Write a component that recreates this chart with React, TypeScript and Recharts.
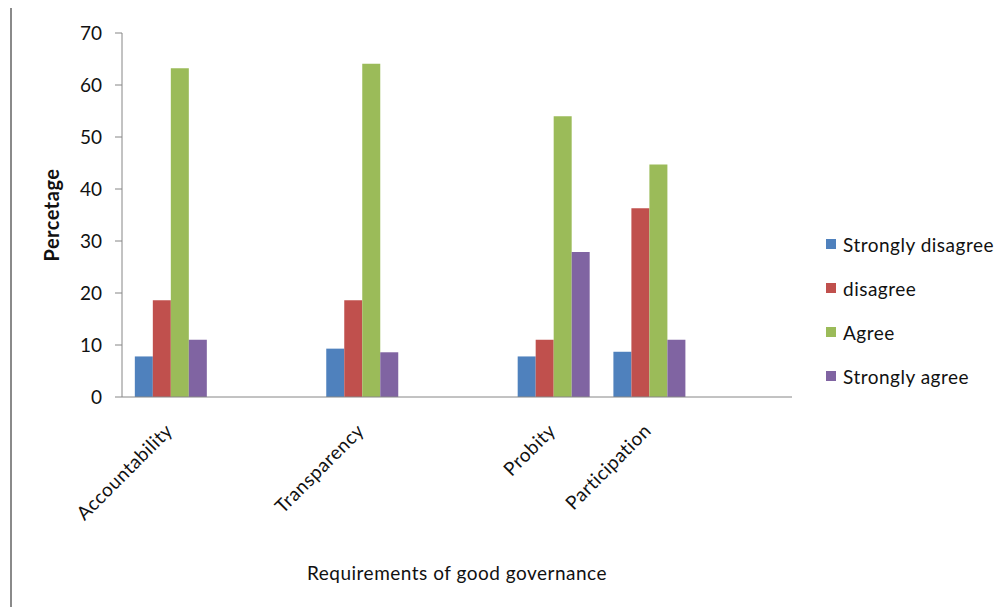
import React from 'react';
import {BarChart, Bar, XAxis, YAxis, Legend, Label} from 'recharts';

const categories = ['Accountability', '', 'Transparency', '', 'Probity', 'Participation', ''];
const stronglyDisagree = [7.8, null, 9.3, null, 7.8, 8.7, null];
const disagree = [18.6, null, 18.6, null, 11.0, 36.3, null];
const agree = [63.2, null, 64.1, null, 54.0, 44.7, null];
const stronglyAgree = [11.0, null, 8.6, null, 27.9, 11.0, null];
const yTicks = [0, 10, 20, 30, 40, 50, 60, 70];

const series = [
    {key: 'sd', name: 'Strongly disagree', color: '#4F81BD'},
    {key: 'd', name: 'disagree', color: '#C0504D'},
    {key: 'a', name: 'Agree', color: '#9BBB59'},
    {key: 'sa', name: 'Strongly agree', color: '#8064A2'},
];

const data = categories.map((name, i) => ({
    name,
    sd: stronglyDisagree[i],
    d: disagree[i],
    a: agree[i],
    sa: stronglyAgree[i],
}));

const FONT = 'Lato, "Open Sans", sans-serif';
const SPACING = 0.5;

const CategoryTick = (props: any) => {
    const {x, y, payload} = props;
    if (!payload.value) return null;
    return (
        <text
            transform={`translate(${x + 4},${y + 27}) rotate(-45)`}
            textAnchor="end"
            fontFamily={FONT}
            fontSize={19}
            letterSpacing={SPACING}
            fill="#111"
        >
            {payload.value}
        </text>
    );
};

const LegendBox = () => (
    <div style={{fontFamily: FONT, fontSize: 19, letterSpacing: SPACING, color: '#111'}}>
        {series.map((s) => (
            <div key={s.key} style={{display: 'flex', alignItems: 'center', height: 44}}>
                <span style={{display: 'inline-block', width: 10, height: 10, background: s.color, marginRight: 7}}/>
                <span>{s.name}</span>
            </div>
        ))}
    </div>
);

export default function App() {
    return (
        <div style={{position: 'relative', width: 1005, height: 615, margin: -8, background: '#fff', overflow: 'hidden'}}>
            <div style={{position: 'absolute', left: 10, top: 4, right: 0, height: 2, background: '#8a8a8a'}}/>
            <div style={{position: 'absolute', left: 10, top: 4, bottom: 0, width: 2, background: '#8a8a8a'}}/>
            <div style={{position: 'absolute', left: 0, top: 0}}>
                <BarChart
                    width={1005}
                    height={615}
                    data={data}
                    margin={{top: 33, right: 213, left: 0, bottom: 0}}
                    barCategoryGap="13.4%"
                    barGap={0}
                >
                    <YAxis
                        width={122}
                        domain={[0, 70]}
                        ticks={yTicks}
                        interval={0}
                        tickSize={7}
                        tickMargin={13}
                        stroke="#868686"
                        tick={{fill: '#111', fontSize: 19, fontFamily: FONT}}
                    >
                        <Label
                            content={(p: any) => {
                                const vb = p.viewBox;
                                const cy = vb.y + vb.height / 2;
                                return (
                                    <text
                                        transform={`translate(59,${cy}) rotate(-90)`}
                                        textAnchor="middle"
                                        fontFamily={FONT}
                                        fontWeight="bold"
                                        fontSize={20}
                                        letterSpacing={SPACING}
                                        fill="#111"
                                    >
                                        Percetage
                                    </text>
                                );
                            }}
                        />
                    </YAxis>
                    <XAxis
                        dataKey="name"
                        height={218}
                        interval={0}
                        tickLine={false}
                        stroke="#868686"
                        tick={<CategoryTick/>}
                    >
                        <Label
                            content={(p: any) => {
                                const vb = p.viewBox;
                                return (
                                    <text
                                        x={vb.x + vb.width / 2}
                                        y={580}
                                        textAnchor="middle"
                                        fontFamily={FONT}
                                        fontSize={19}
                                        letterSpacing={SPACING}
                                        fill="#111"
                                    >
                                        Requirements of good governance
                                    </text>
                                );
                            }}
                        />
                    </XAxis>
                    <Legend
                        layout="vertical"
                        align="center"
                        verticalAlign="middle"
                        content={<LegendBox/>}
                        wrapperStyle={{left: 826, top: 222, width: 180}}
                    />
                    {series.map((s) => (
                        <Bar key={s.key} dataKey={s.key} name={s.name} fill={s.color} isAnimationActive={false}/>
                    ))}
                </BarChart>
            </div>
        </div>
    );
}
